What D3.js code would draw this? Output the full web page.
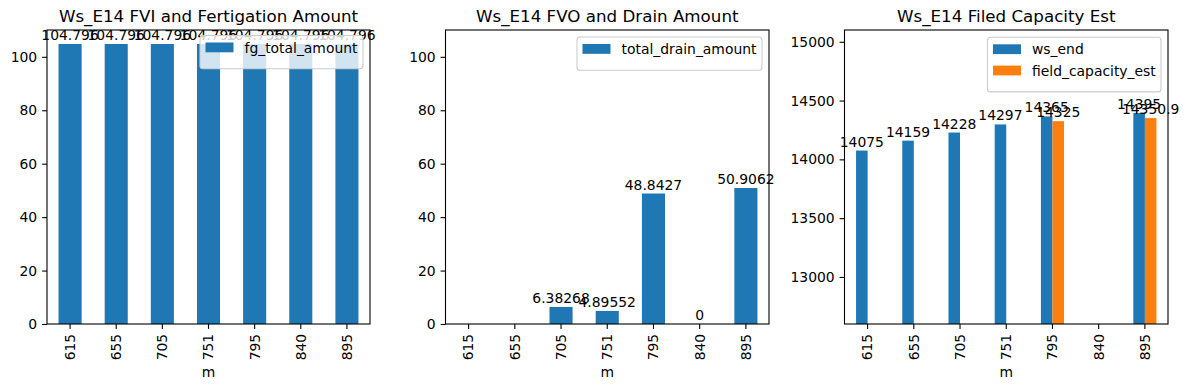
<!DOCTYPE html>
<head>
  <meta charset="utf-8">
  <script src="https://d3js.org/d3.v7.min.js"></script>
  <style>
  body { margin: 0; background: #fff; }
  svg text { font-family: "DejaVu Sans", sans-serif; fill: #000; }
  .tick text { font-size: 13.9px; }
  .domain { display: none; }
  .tick line { stroke: #000; stroke-width: 1.1px; }
  </style>
</head>

<body>
  <script>
    // chart data
    var categories = ["615", "655", "705", "751", "795", "840", "895"];
    var fgTotalAmount = [104.796, 104.796, 104.796, 104.796, 104.796, 104.796, 104.796];
    var totalDrainAmount = [null, null, 6.38268, 4.89552, 48.8427, 0, 50.9062];
    var wsEnd = [14075, 14159, 14228, 14297, 14365, null, 14395];
    var fieldCapacityEst = [null, null, null, null, 14325, null, 14350.9];
    var ticks12 = [0, 20, 40, 60, 80, 100];
    var ticks3 = [13000, 13500, 14000, 14500, 15000];

    var blue = "#1f77b4", orange = "#ff7f0e";

    var svg = d3.select("body")
      .append("svg")
      .attr("width", 1189)
      .attr("height", 390);

    // matplotlib style %g label
    function fmtG(v) { return String(+v.toPrecision(6)); }

    function drawPanel(p) {
      var x = d3.scaleBand().domain(categories).range([p.left, p.right]);
      var y = d3.scaleLinear().domain(p.yDomain).range([324, 30]);
      var g = svg.append("g");
      var n = p.series.length;
      var bw = x.bandwidth() * 0.5 / n;

      p.series.forEach(function(s, i) {
        var rows = categories.map(function(c, j) { return {c: c, v: s.values[j]}; })
          .filter(function(d) { return d.v !== null; });
        var off = (i - (n - 1) / 2) * bw;
        g.selectAll(null).data(rows).enter().append("rect")
          .attr("x", function(d) { return x(d.c) + x.bandwidth() / 2 + off - bw / 2; })
          .attr("width", bw)
          .attr("y", function(d) { return Math.min(y(d.v), y.range()[0]); })
          .attr("height", function(d) { return Math.max(0, y.range()[0] - y(d.v)); })
          .attr("fill", s.color);
        g.selectAll(null).data(rows).enter().append("text")
          .attr("x", function(d) { return x(d.c) + x.bandwidth() / 2 + off; })
          .attr("y", function(d) { return Math.min(y(d.v), 324) - 4; })
          .attr("text-anchor", "middle")
          .style("font-size", "13.9px")
          .text(function(d) { return fmtG(d.v); });
      });

      // axes frame
      g.append("rect")
        .attr("x", p.left).attr("y", 30)
        .attr("width", p.right - p.left).attr("height", 294)
        .attr("fill", "none").attr("stroke", "#000").attr("stroke-width", 1.1);

      g.append("g")
        .attr("transform", "translate(0,324)")
        .call(d3.axisBottom(x).tickSize(4.9).tickPadding(4.9))
        .selectAll(".tick text")
        .attr("transform", "rotate(-90)")
        .attr("text-anchor", "end")
        .attr("x", -9.8).attr("y", 0).attr("dy", "0.35em");

      g.append("g")
        .attr("transform", "translate(" + p.left + ",0)")
        .call(d3.axisLeft(y).tickValues(p.ticks).tickSize(4.9).tickPadding(4.9).tickFormat(d3.format("d")));

      g.append("text")
        .attr("x", (p.left + p.right) / 2).attr("y", 22)
        .attr("text-anchor", "middle")
        .style("font-size", "16.7px")
        .text(p.title);

      g.append("text")
        .attr("x", (p.left + p.right) / 2).attr("y", 377)
        .attr("text-anchor", "middle")
        .style("font-size", "13.9px")
        .text("m");

      // legend
      var lg = g.append("g");
      lg.append("rect")
        .attr("x", p.legend.x).attr("y", p.legend.y)
        .attr("width", p.legend.w).attr("height", 8 + 21.3 * n + 4)
        .attr("rx", 3)
        .attr("fill", "rgba(255,255,255,0.8)")
        .attr("stroke", "#cccccc").attr("stroke-width", 1.1);
      p.series.forEach(function(s, i) {
        var yy = p.legend.y + 7 + i * 21.3;
        lg.append("rect")
          .attr("x", p.legend.x + 5.5).attr("y", yy)
          .attr("width", 28).attr("height", 9.8)
          .attr("fill", s.color);
        lg.append("text")
          .attr("x", p.legend.x + 44.5).attr("y", yy + 10)
          .style("font-size", "13.9px")
          .text(s.name);
      });
    }

    drawPanel({
      title: "Ws_E14 FVI and Fertigation Amount",
      left: 47, right: 370,
      yDomain: [0, 110.04], ticks: ticks12,
      series: [{name: "fg_total_amount", values: fgTotalAmount, color: blue}],
      legend: {x: 200, y: 35.5, w: 163}
    });

    drawPanel({
      title: "Ws_E14 FVO and Drain Amount",
      left: 445.5, right: 769,
      yDomain: [0, 110.04], ticks: ticks12,
      series: [{name: "total_drain_amount", values: totalDrainAmount, color: blue}],
      legend: {x: 577, y: 37, w: 185}
    });

    drawPanel({
      title: "Ws_E14 Filed Capacity Est",
      left: 844.5, right: 1168,
      yDomain: [12600, 15100], ticks: ticks3,
      series: [
        {name: "ws_end", values: wsEnd, color: blue},
        {name: "field_capacity_est", values: fieldCapacityEst, color: orange}
      ],
      legend: {x: 987.5, y: 37.3, w: 173.5}
    });
  </script>
</body>
